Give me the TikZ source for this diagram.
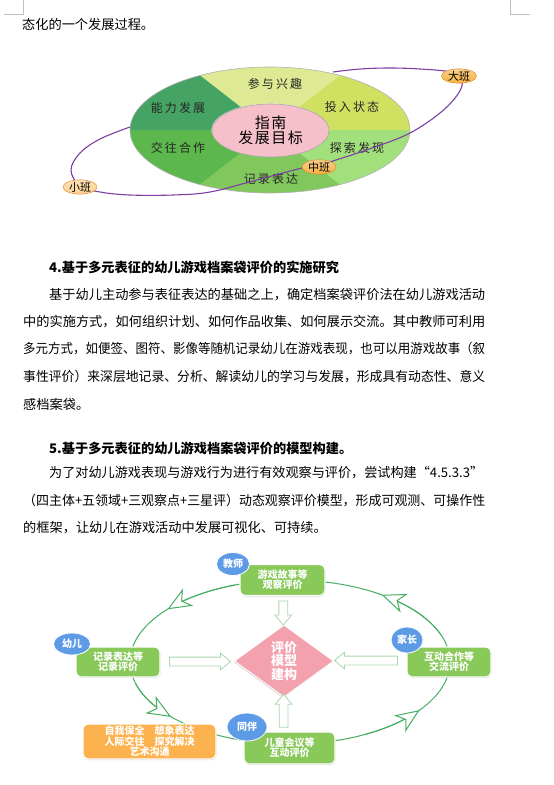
\documentclass[tikz,border=0pt]{standalone}
\usepackage{fontspec}
\usepackage{graphicx}
\setmainfont{Noto Sans CJK SC}
\newfontfamily\ringfont[LetterSpace=18]{Noto Sans CJK SC}
\newfontfamily\hubfont[LetterSpace=10]{Noto Sans CJK SC}
\usetikzlibrary{shapes.geometric,shapes.arrows,arrows.meta,calc,shadows}
\definecolor{sA}{HTML}{DEE993}
\definecolor{sB}{HTML}{D0E162}
\definecolor{sC}{HTML}{A2E07C}
\definecolor{sD}{HTML}{80C75C}
\definecolor{sE}{HTML}{5CB74D}
\definecolor{sF}{HTML}{45A363}
\definecolor{hubpink}{HTML}{F6C0CB}
\definecolor{orbitc}{HTML}{7D3FA3}
\definecolor{classor}{HTML}{F5B040}
\definecolor{classlt}{HTML}{FBD393}
\definecolor{boxgreen}{HTML}{88C95A}
\definecolor{ringgreen}{HTML}{47AE62}
\definecolor{paleg}{HTML}{A8D8AC}
\definecolor{dpink}{HTML}{F3A1AD}
\definecolor{roleblue}{HTML}{5E9BE6}
\definecolor{boxorange}{HTML}{FCB24F}
\definecolor{markgray}{HTML}{BFBFBF}
\begin{document}
\begin{tikzpicture}[x=1pt,y=-1pt,
  body/.style={anchor=west, inner sep=0pt, font=\fontsize{13.2}{13.2}\selectfont},
  head/.style={anchor=west, inner sep=0pt, font=\fontsize{13.2}{13.2}\selectfont\bfseries},
  ringlbl/.style={inner sep=0pt, font=\ringfont\fontsize{12}{12}\selectfont, text=black!85},
  cls/.style={ellipse, inner sep=0pt, minimum width=34pt, minimum height=13pt, draw=orange!60!brown, line width=0.4pt, font=\fontsize{11}{11}\selectfont},
  evalbox/.style={rectangle, rounded corners=5pt, fill=boxgreen, draw=white, line width=1.2pt, drop shadow={shadow xshift=0.5pt, shadow yshift=-1.2pt, opacity=0.3}, text=white, align=center, inner sep=0pt, font=\fontsize{10}{10}\selectfont\bfseries},
  role/.style={ellipse, fill=roleblue, draw=white, line width=0.8pt, inner sep=0pt, text=white, font=\fontsize{10}{10}\selectfont\bfseries},
  blockarr/.style={single arrow, draw=paleg, fill=white, line width=0.8pt, inner sep=4pt, single arrow head extend=4pt, single arrow tip angle=80},
  cyc/.style={ringgreen, line width=1pt},
  cycarr/.style={cyc, -{Stealth[length=24pt, width=20pt, inset=7pt, fill=white]}},
  cornermark/.style={markgray, line width=0.8pt}
]
\fill[white] (0,0) rectangle (554,785);
\useasboundingbox (0,0) rectangle (554,785);
% page corner marks
\draw[cornermark] (4,14) -- (23,14) -- (23,0);
\draw[cornermark] (530,14) -- (510,14) -- (510,0);

% text
\node[body] (t0) at (22,24) {态化的一个发展过程。};

% ===== top diagram =====
\foreach \a/\b/\c in {60/120/sA,0/60/sB,-60/0/sC,240/300/sD,180/240/sE,120/180/sF}{
  \fill[\c] plot[domain=\a:\b, samples=24] ({270+140*cos(\x)},{130-63*sin(\x)})
    -- plot[domain=\b:\a, samples=24] ({270+58.5*cos(\x)},{130-26.5*sin(\x)}) -- cycle;
}
\draw[gray!60, line width=0.6pt] (270,130) ellipse [x radius=140, y radius=63];
\node[ellipse, minimum width=117pt, minimum height=53pt, fill=hubpink, draw=gray!70, line width=0.6pt, inner sep=0pt, align=center, font=\hubfont\fontsize{15}{15.5}\selectfont] (hub) at (270.5,130.5) {指南\\发展目标};
\node[ringlbl] (r1) at (275,84) {参与兴趣};
\node[ringlbl] (r2) at (352,107) {投入状态};
\node[ringlbl] (r3) at (357,148) {探索发现};
\node[ringlbl] (r4) at (271,179) {记录表达};
\node[ringlbl] (r5) at (178,148) {交往合作};
\node[ringlbl] (r6) at (178,108) {能力发展};
\draw[orbitc, line width=1.1pt] plot[smooth, tension=0.6] coordinates {(130,127) (100,139) (80,153) (71,170) (80,186) (100,192) (130,195) (173,195) (210,192) (253,181) (302,168) (318,165) (336,160) (375,147) (410,133) (440,113) (458,94) (462,80) (450,72) (420,69) (390,68) (360,69) (333,72)};
\node[cls, top color=classlt!70, bottom color=classlt] (xiao) at (80,187) {小班};
\node[cls, top color=classor!60, bottom color=classor] (zhong) at (319,167) {中班};
\node[cls, top color=classor!60, bottom color=classor, minimum width=35pt, minimum height=14pt] (da) at (459,76) {大班};

% ===== text blocks =====
\node[head] (h4) at (49,267) {4.基于多元表征的幼儿游戏档案袋评价的实施研究};
\node[body] (p1a) at (49,295) {\resizebox{436pt}{\height}{基于幼儿主动参与表征表达的基础之上，确定档案袋评价法在幼儿游戏活动}};
\node[body] (p1b) at (23,322) {\resizebox{462pt}{\height}{中的实施方式，如何组织计划、如何作品收集、如何展示交流。其中教师可利用}};
\node[body] (p1c) at (23,349) {\resizebox{462pt}{\height}{多元方式，如便签、图符、影像等随机记录幼儿在游戏表现，也可以用游戏故事（叙}};
\node[body] (p1d) at (23,377) {\resizebox{462pt}{\height}{事性评价）来深层地记录、分析、解读幼儿的学习与发展，形成具有动态性、意义}};
\node[body] (p1e) at (23,404) {感档案袋。};
\node[head] (h5) at (49,448) {5.基于多元表征的幼儿游戏档案袋评价的模型构建。};
\node[body] (p2a) at (49,473) {\resizebox{434pt}{\height}{为了对幼儿游戏表现与游戏行为进行有效观察与评价，尝试构建“4.5.3.3”}};
\node[body] (p2b) at (23,501) {\resizebox{462pt}{\height}{（四主体+五领域+三观察点+三星评）动态观察评价模型，形成可观测、可操作性}};
\node[body] (p2c) at (23,528) {的框架，让幼儿在游戏活动中发展可视化、可持续。};

% ===== bottom diagram =====
\draw[cyc] (290,662) ellipse [x radius=160, y radius=82];
\draw[cycarr] plot[domain=250:220, samples=16] ({290+160*cos(\x)},{662+82*sin(\x)});
\draw[cycarr] plot[domain=340:305, samples=16] ({290+160*cos(\x)},{662+82*sin(\x)});
\draw[cycarr] plot[domain=165:138, samples=16] ({290+160*cos(\x)},{662+82*sin(\x)});
\draw[cycarr] plot[domain=62:36, samples=16] ({290+160*cos(\x)},{662+82*sin(\x)});

\node[diamond, fill=dpink, draw=white, line width=0.8pt, inner sep=0pt, minimum width=99pt, minimum height=72pt, drop shadow={shadow xshift=-0.8pt, shadow yshift=-1.2pt, opacity=0.3}, text=white, align=center, font=\fontsize{13}{13.5}\selectfont\bfseries] (dia) at (284,661) {评价\\模型\\建构};

\node[evalbox, minimum width=85pt, minimum height=31pt] (story) at (282.5,580) {游戏故事等\\观察评价};
\node[evalbox, minimum width=84pt, minimum height=30pt] (record) at (118,662) {记录表达等\\记录评价};
\node[evalbox, minimum width=84pt, minimum height=30pt] (inter) at (449,662) {互动合作等\\交流评价};
\node[evalbox, minimum width=91pt, minimum height=32pt] (meet) at (289.5,748) {儿童会议等\\互动评价};
\node[evalbox, fill=boxorange, minimum width=133pt, minimum height=35pt, font=\fontsize{10}{9.3}\selectfont\bfseries] (domain) at (149.5,741.5) {自我保全　想象表达\\人际交往　探究解决\\艺术沟通};

\node[blockarr, minimum height=24pt, shape border rotate=270] (aT) at ($(story.south)!0.5!(dia.north)$) {};
\node[blockarr, minimum height=61pt] (aL) at ($(record.east)!0.5!(dia.west)$) {};
\node[blockarr, minimum height=63pt, shape border rotate=180] (aR) at ($(inter.west)!0.5!(dia.east)+(-1.5,-1)$) {};
\node[blockarr, minimum height=33pt, shape border rotate=90] (aB) at ($(meet.north)!0.5!(dia.south)+(-3.2,-1)$) {};

\node[role, minimum width=33pt, minimum height=23pt] (teacher) at (233,564) {教师};
\node[role, minimum width=37pt, minimum height=22pt] (child) at (72,644) {幼儿};
\node[role, minimum width=32pt, minimum height=26pt] (parent) at (407,640) {家长};
\node[role, minimum width=40pt, minimum height=28pt] (peer) at (247,727) {同伴};
\end{tikzpicture}
\end{document}
